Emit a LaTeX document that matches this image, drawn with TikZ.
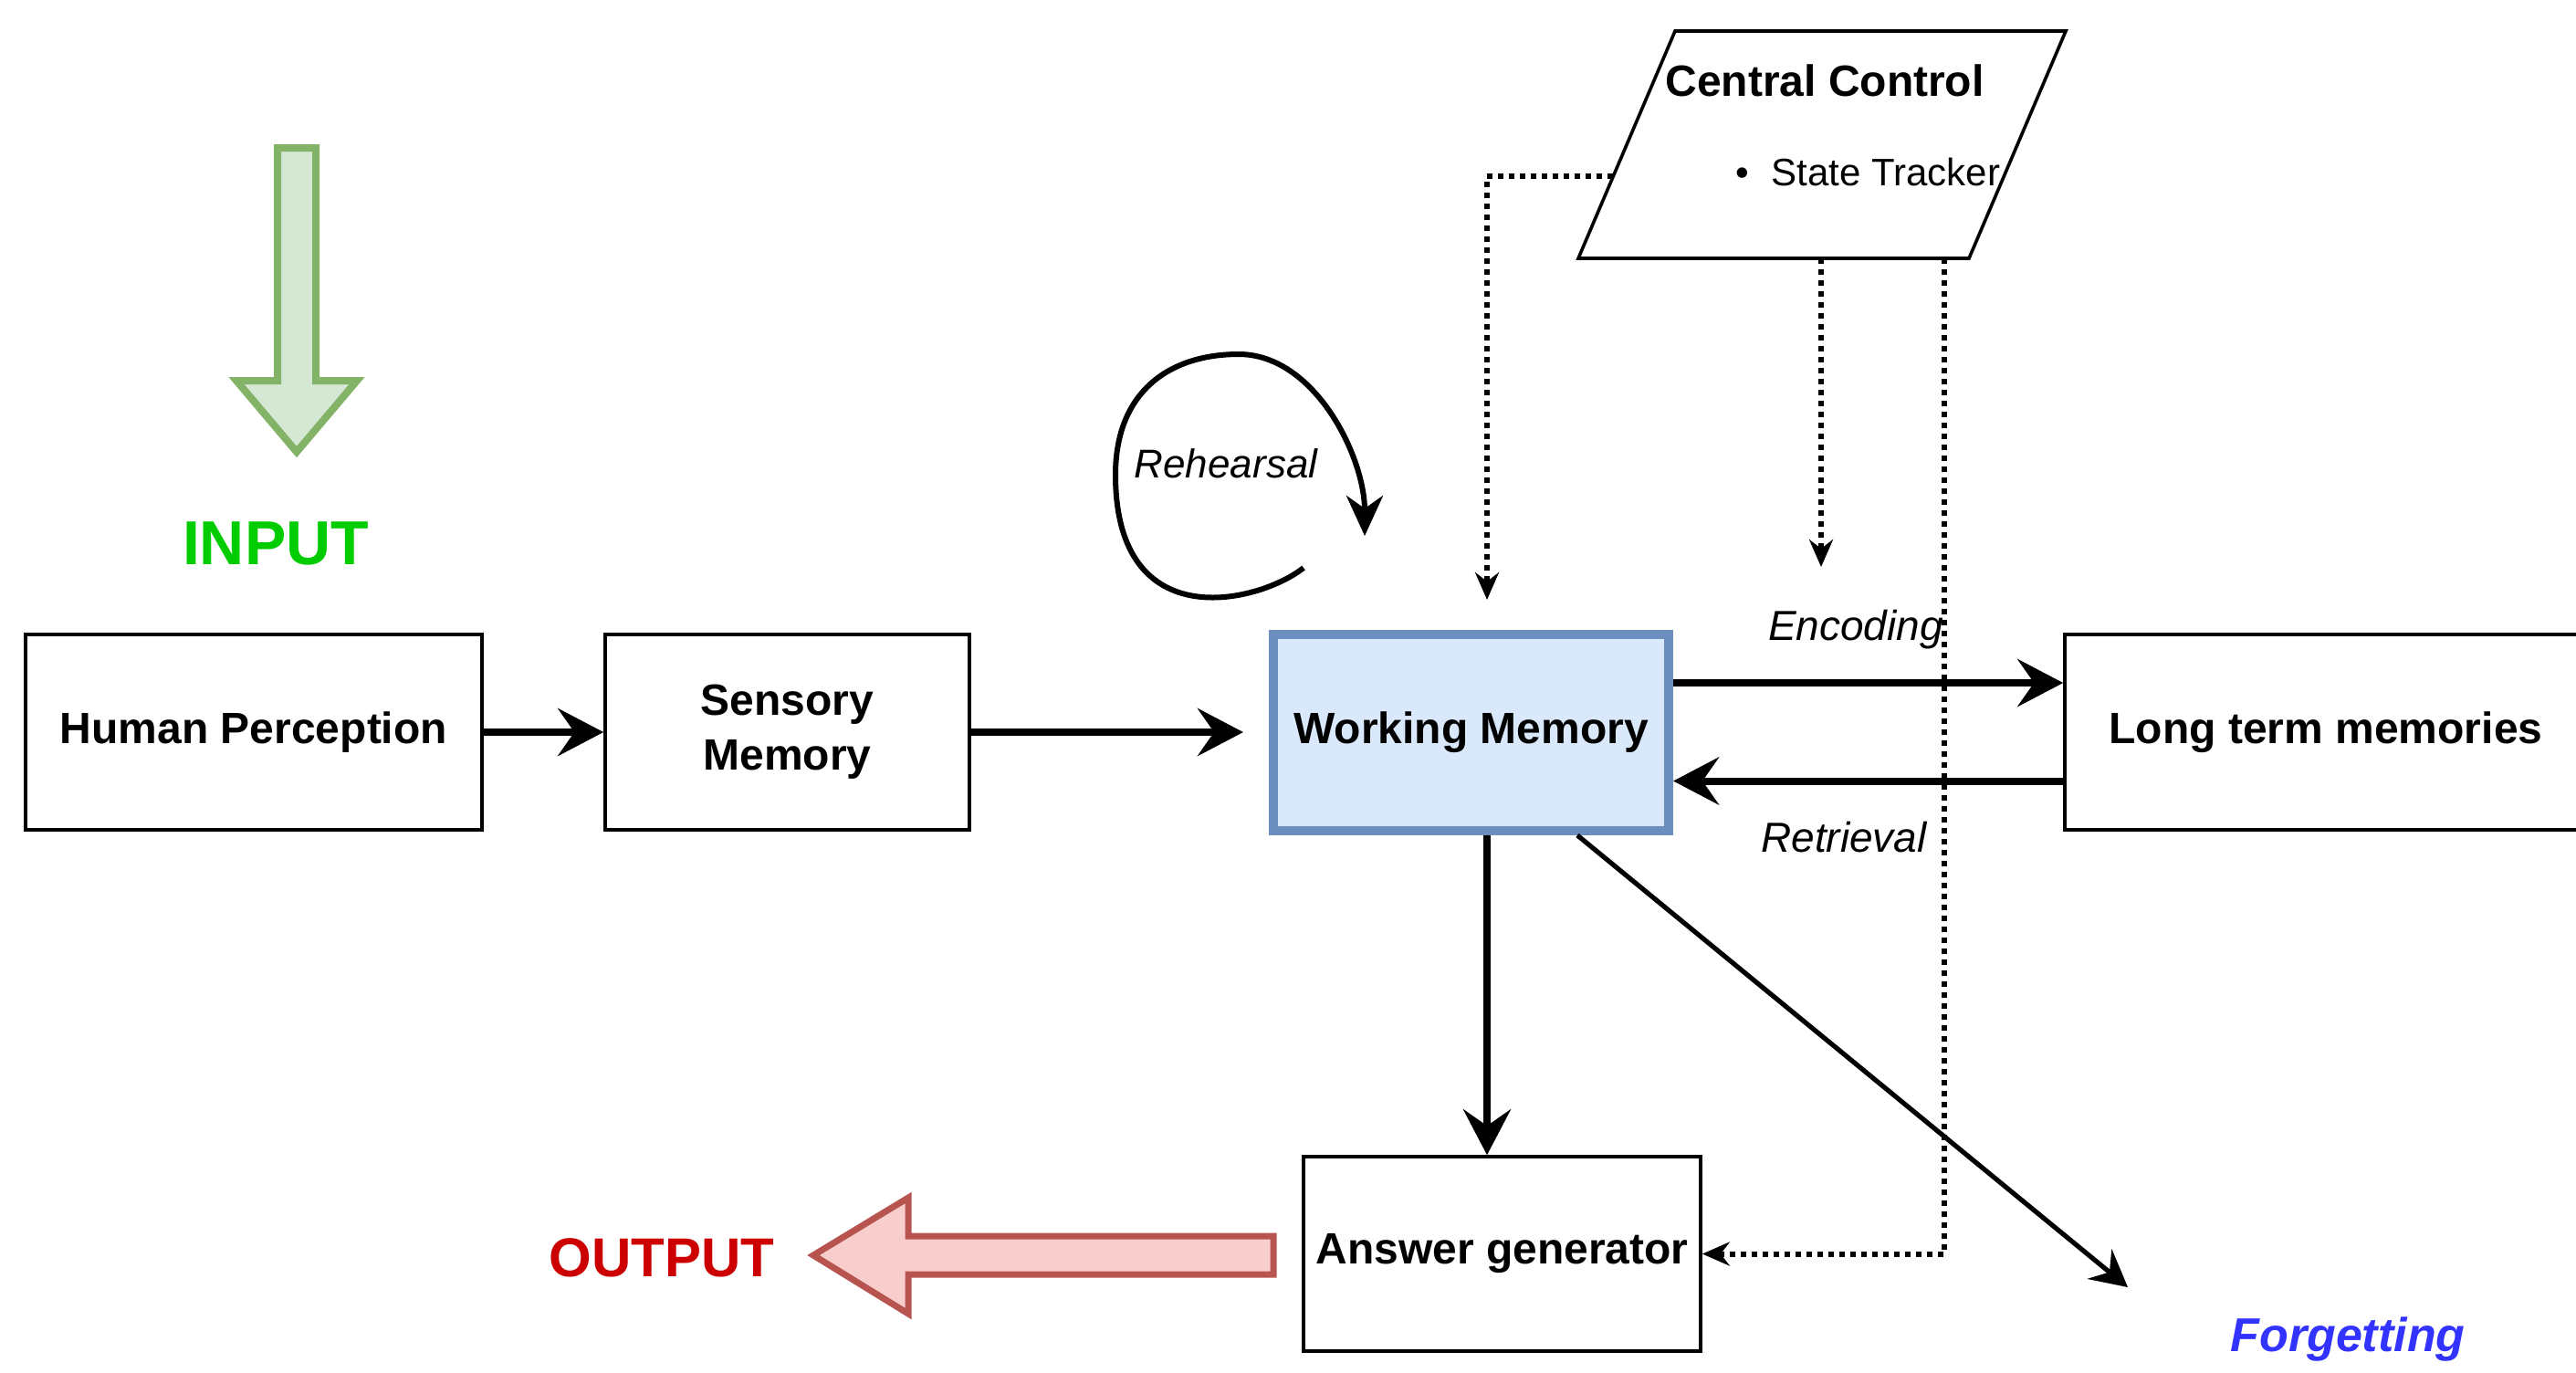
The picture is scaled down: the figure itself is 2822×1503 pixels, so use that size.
\documentclass[tikz,border=0pt]{standalone}
\usepackage{fontspec}
\setmainfont{Liberation Sans}
\usetikzlibrary{arrows.meta,calc}

\definecolor{wmfill}{RGB}{218,232,252}
\definecolor{wmline}{RGB}{108,142,191}
\definecolor{greenfill}{RGB}{213,232,212}
\definecolor{greenline}{RGB}{130,179,102}
\definecolor{redfill}{RGB}{248,206,204}
\definecolor{redline}{RGB}{184,84,80}
\definecolor{ingreen}{RGB}{0,204,0}
\definecolor{outred}{RGB}{204,0,0}
\definecolor{forgetblue}{RGB}{51,51,255}

\tikzset{
  blockbox/.style={draw, line width=0.9pt, minimum height=53.5pt, inner sep=0pt, align=center, font=\fontsize{12}{15}\selectfont\bfseries},
  mainarrow/.style={line width=2pt, -{Stealth[length=12.5pt,width=13pt,inset=4.5pt]}},
  thinarrow/.style={line width=1.3pt, -{Stealth[length=10pt,width=10.5pt,inset=3.5pt]}},
  dotarrow/.style={line width=1.5pt, dash pattern=on 1.4pt off 1.6pt, -{Stealth[length=7.5pt,width=6.5pt,inset=2.5pt]}},
  flowlabel/.style={font=\fontsize{11.5}{14}\selectfont\itshape},
}

\begin{document}
\begin{tikzpicture}[x=0.25pt,y=0.25pt,yscale=-1,xscale=1]

\useasboundingbox (0,0) rectangle (2822,1503);

% input / output block arrows
\draw [line width=2pt, draw=greenline, fill=greenfill] (304,162) -- (346,162) -- (346,417) -- (391,417) -- (325,495) -- (259,417) -- (304,417) -- cycle ;
\draw [line width=1.75pt, draw=redline, fill=redfill] (1395,1354) -- (995,1354) -- (995,1312) -- (891,1375) -- (995,1439) -- (995,1396) -- (1395,1396) -- cycle ;

\node [font=\fontsize{17}{20}\selectfont\bfseries, text=ingreen] (inLbl) at (302,595) {INPUT};
\node [font=\fontsize{15}{18}\selectfont\bfseries, text=outred] (outLbl) at (725,1378) {OUTPUT};

% boxes
\node [blockbox, minimum width=125pt] (hp) at (278,802) {Human Perception};
\node [blockbox, minimum width=99.75pt] (sm) at (862.5,802) {Sensory\\Memory};
\node [blockbox, minimum width=108.25pt, minimum height=53.75pt, draw=wmline, fill=wmfill, line width=2.5pt] (wm) at (1611.5,802.5) {Working Memory};
\node [blockbox, minimum width=143pt] (ltm) at (2548,802) {Long term memories};
\node [blockbox, minimum width=108.75pt, minimum height=53.25pt] (ag) at (1645.5,1373.5) {Answer generator};

% central control
\draw [line width=0.9pt, fill=white] (1835,34) -- (2263,34) -- (2157,283) -- (1729,283) -- cycle ;
\node [font=\fontsize{12}{15}\selectfont\bfseries] (ccTitle) at (1999,88) {Central Control};
\node [anchor=west, inner sep=0pt, font=\fontsize{10.5}{13}\selectfont] (ccItem) at (1901,188) {\textbullet\hspace{6pt}State Tracker};

\coordinate (ccLeft) at (1767,193);
\coordinate (ccMid) at (1995,283);
\coordinate (ccRight) at (2130,283);
\coordinate (wmAbove) at (1629,657);
\coordinate (encAbove) at (1995,621);
\coordinate (forget) at (2331,1410);

% connectors
\draw [mainarrow] (hp.east) -- (sm.west);
\draw [mainarrow, shorten >=7pt] (sm.east) -- (sm.east -| wm.west);
\draw [mainarrow] ($(wm.east)+(0,-54.5)$) -- ($(ltm.west)+(0,-54)$);
\draw [mainarrow] ($(ltm.west)+(0,53.5)$) -- ($(wm.east)+(0,53)$);
\draw [mainarrow] ($(wm.south)+(17.5,0)$) -- ($(ag.north)+(-16.5,0)$);
\draw [thinarrow] ($(wm.south)+(116.5,0)$) -- (forget);

\draw [dotarrow] (ccLeft) -| (wmAbove);
\draw [dotarrow] (ccMid) -- (encAbove);
\draw [dotarrow] (ccRight) |- (ag.east);

% rehearsal loop
\draw [line width=1.5pt, -{Stealth[length=11pt,width=10pt,inset=3.5pt]}] (1428,622) .. controls (1380,660) and (1222,700) .. (1222,520) .. controls (1222,430) and (1280,388) .. (1357,388) .. controls (1440,388) and (1495,500) .. (1495,587);

% labels
\node [flowlabel] (encLbl) at (2033,690) {Encoding};
\node [flowlabel] (retLbl) at (2020,917) {Retrieval};
\node [font=\fontsize{11}{13}\selectfont\itshape] (rehLbl) at (1343,508) {Rehearsal};
\node [font=\fontsize{13}{16}\selectfont\bfseries\itshape, text=forgetblue] (forgetLbl) at (2572,1467) {Forgetting};

\end{tikzpicture}
\end{document}
